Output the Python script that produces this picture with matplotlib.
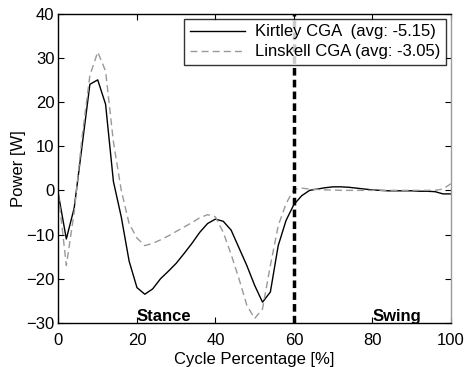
import numpy as np
import matplotlib
matplotlib.use('Agg')
import matplotlib.pyplot as plt

plt.rcParams['font.family'] = ['Liberation Sans', 'DejaVu Sans']

# gait cycle sampled every 2 %
cycle = np.arange(0, 101, 2)

kirtley = [-1, -11, -4, 10, 24, 25, 19.5, 2, -6, -16, -22, -23.5, -22.3, -20, -18.3,
           -16.5, -14.3, -12, -9.5, -7.5, -6.5, -7, -9, -13, -17, -21.5, -25.3, -23,
           -12.5, -6.8, -3.2, -1.2, 0, 0.3, 0.6, 0.8, 0.8, 0.7, 0.5, 0.3, 0.1, 0,
           -0.1, -0.1, -0.1, -0.1, -0.2, -0.2, -0.3, -0.8, -0.8]

linskell = [-1, -17, -5, 12, 26, 31.3, 27, 11, 0, -7.5, -10.8, -12.5, -12, -11.2, -10.3,
            -9.3, -8.3, -7.3, -6.2, -5.5, -6, -9.5, -14.5, -20, -26, -29, -26.8, -17,
            -8, -3, 0.2, 0.5, 0.3, 0.2, 0.1, 0.1, 0, 0, 0, 0, 0, 0, 0, 0, 0, 0, 0,
            0, 0, 0.3, 1.5]

labels = ['Kirtley CGA  (avg: -5.15)', 'Linskell CGA (avg: -3.05)']

fs = 12

fig = plt.figure(figsize=(4.66, 3.67), dpi=100)
ax = fig.add_axes([0.1255, 0.12, 0.842, 0.843])

ax.plot(cycle, kirtley, color='black', linewidth=1.0, label=labels[0])
ax.plot(cycle, linskell, color='#999999', linewidth=1.0, linestyle=(0, (5, 3)), label=labels[1])
ax.axvline(60, color='black', linewidth=2.5, linestyle=(0, (2.2, 1.2)))

ax.text(20, -30.3, 'Stance', fontsize=fs, fontweight='bold', va='bottom', ha='left')
ax.text(80, -30.3, 'Swing', fontsize=fs, fontweight='bold', va='bottom', ha='left')

ax.set_xlim(0, 100)
ax.set_ylim(-30, 40)
ax.set_xticks(np.arange(0, 101, 20))
ax.set_yticks(np.arange(-30, 41, 10))
ax.tick_params(direction='in', top=True, right=True, labelsize=fs, length=4, width=0.8)
ax.tick_params(axis='x', pad=7)
ax.tick_params(axis='y', pad=3)
ax.set_xlabel('Cycle Percentage [%]', fontsize=fs, labelpad=3)
ax.set_ylabel('Power [W]', fontsize=fs, labelpad=0)
for s in ax.spines.values():
    s.set_linewidth(1.0)
ax.spines['right'].set_color('#999999')

leg = ax.legend(loc='upper right', fontsize=fs, frameon=True, fancybox=False,
                edgecolor='black', handlelength=3.3, handletextpad=0.6, borderpad=0.35,
                labelspacing=0.3, borderaxespad=0.3)
leg.get_frame().set_linewidth(1.0)

fig.savefig('out.png', dpi=100)
